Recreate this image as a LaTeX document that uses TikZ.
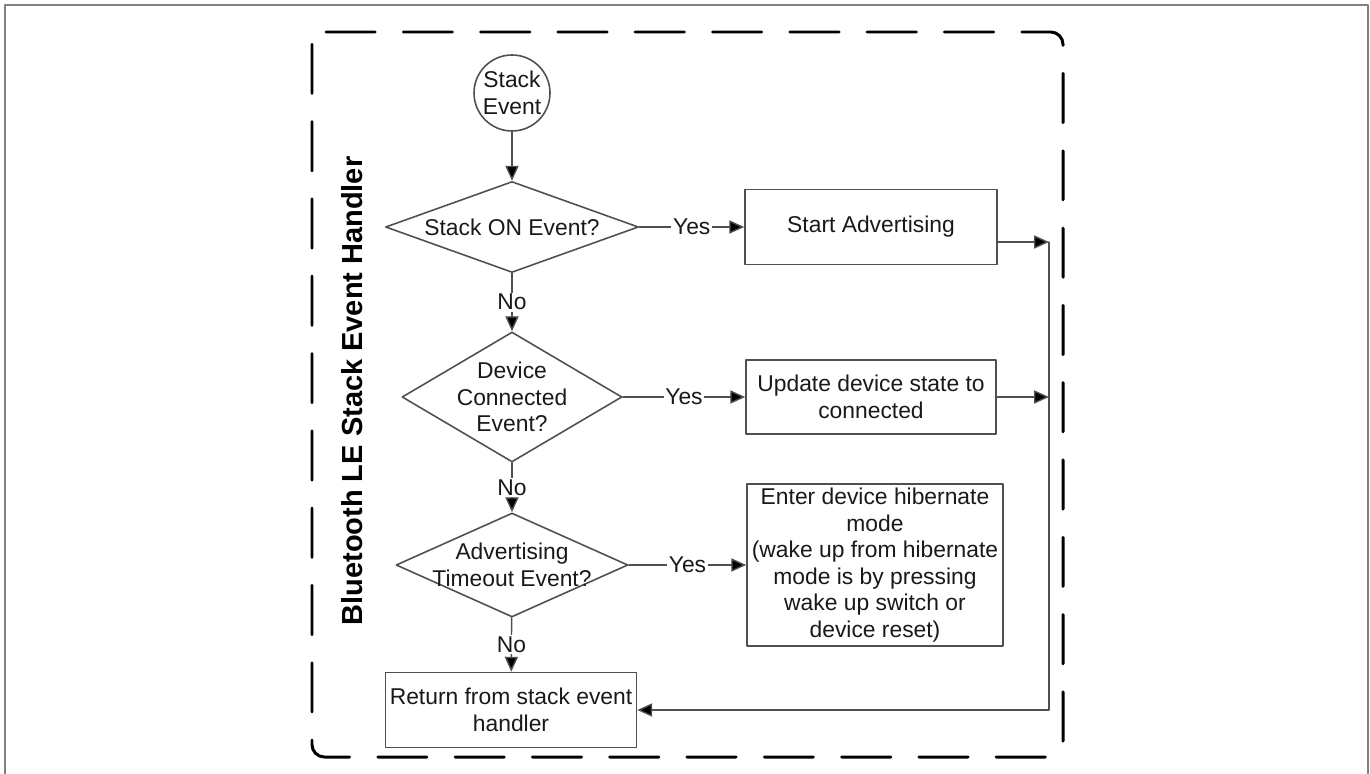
\documentclass[tikz,border=0pt]{standalone}
\usepackage{fontspec}
\setmainfont{Liberation Sans}
\usetikzlibrary{arrows.meta,shapes.geometric}

\begin{document}
\begin{tikzpicture}[x=0.02cm,y=-0.02cm,line cap=round,line join=round]
  % ----- styles & colors -----
  \definecolor{edge}{RGB}{80,80,80}   % dark gray lines
  \definecolor{ink}{RGB}{25,25,25}    % text
  \def\unitpx{0.02cm}
  \tikzset{
    txt/.style={font=\fontsize{13}{15.1}\selectfont, text=ink, align=center},
    decision/.style={draw=edge, line width=0.9pt, shape=diamond, inner sep=0pt},
    proc/.style={draw=edge, line width=0.9pt, rectangle, txt, inner sep=0pt},
    term/.style={draw=edge, line width=0.9pt, circle, txt, inner sep=0pt, minimum size=76*\unitpx},
    arr/.style={draw=edge, line width=0.8pt, -{Triangle[length=8.5pt,width=7.5pt,fill=black]}},
    lbl/.style={txt, fill=white, inner sep=1pt},
    groupbox/.style={draw=black, line width=1.7pt, rounded corners=7pt, dash pattern=on 28pt off 16pt}
  }
  \useasboundingbox (0,0) rectangle (1370,774);

  % ----- outer frame & dashed group -----
  \draw[gray, line width=0.8pt] (5,774) -- (5,5) -- (1368,5) -- (1368,774);
  \draw[groupbox] (312,32) rectangle (1063,757);
  \node[rotate=90, font=\bfseries\fontsize{16.5}{19}\selectfont] (title) at (352,391) {Bluetooth LE Stack Event Handler};

  % ----- main column -----
  \node[term] (evt) at (512,93) {Stack\\Event};
  \node[decision, minimum width=253*\unitpx, minimum height=91*\unitpx,
        label={[txt]center:Stack ON Event?}] (d1) at (512,227) {};
  \node[decision, minimum width=220*\unitpx, minimum height=130*\unitpx,
        label={[txt]center:Device\\Connected\\Event?}] (d2) at (512,397) {};
  \node[decision, minimum width=232*\unitpx, minimum height=104*\unitpx,
        label={[txt]center:Advertising\\Timeout Event?}] (d3) at (512,565) {};
  \node[proc, minimum width=251*\unitpx, minimum height=75*\unitpx] (ret) at (511,710) {Return from stack event\\handler};

  % ----- action boxes -----
  \node[proc, minimum width=252*\unitpx, minimum height=75*\unitpx] (adv) at (871,227) {Start Advertising};
  \node[proc, minimum width=250*\unitpx, minimum height=74*\unitpx] (upd) at (871,397) {Update device state to\\connected};
  \node[proc, minimum width=256*\unitpx, minimum height=162*\unitpx] (hib) at (875,565)
       {Enter device hibernate\\mode\\(wake up from hibernate\\mode is by pressing\\wake up switch or\\device reset)};

  % ----- connectors -----
  \draw[arr] (evt) -- (d1);
  \draw[arr] (d1) -- node[lbl]{No} (d2);
  \draw[arr] (d2) -- node[lbl]{No} (d3);
  \draw[arr] (d3) -- node[lbl]{No} (ret);
  \draw[arr] (d1) -- node[lbl]{Yes} (adv);
  \draw[arr] (d2) -- node[lbl]{Yes} (upd);
  \draw[arr] (d3) -- node[lbl]{Yes} (hib);

  % return bus on the right
  \coordinate (bus1) at (1049,242);
  \coordinate (bus2) at (1049,397);
  \draw[arr] (adv.east |- bus1) -- (bus1);
  \draw[arr] (upd.east |- bus2) -- (bus2);
  \draw[arr] (bus1) -- (bus1 |- ret) -- (ret.east);
\end{tikzpicture}
\end{document}
